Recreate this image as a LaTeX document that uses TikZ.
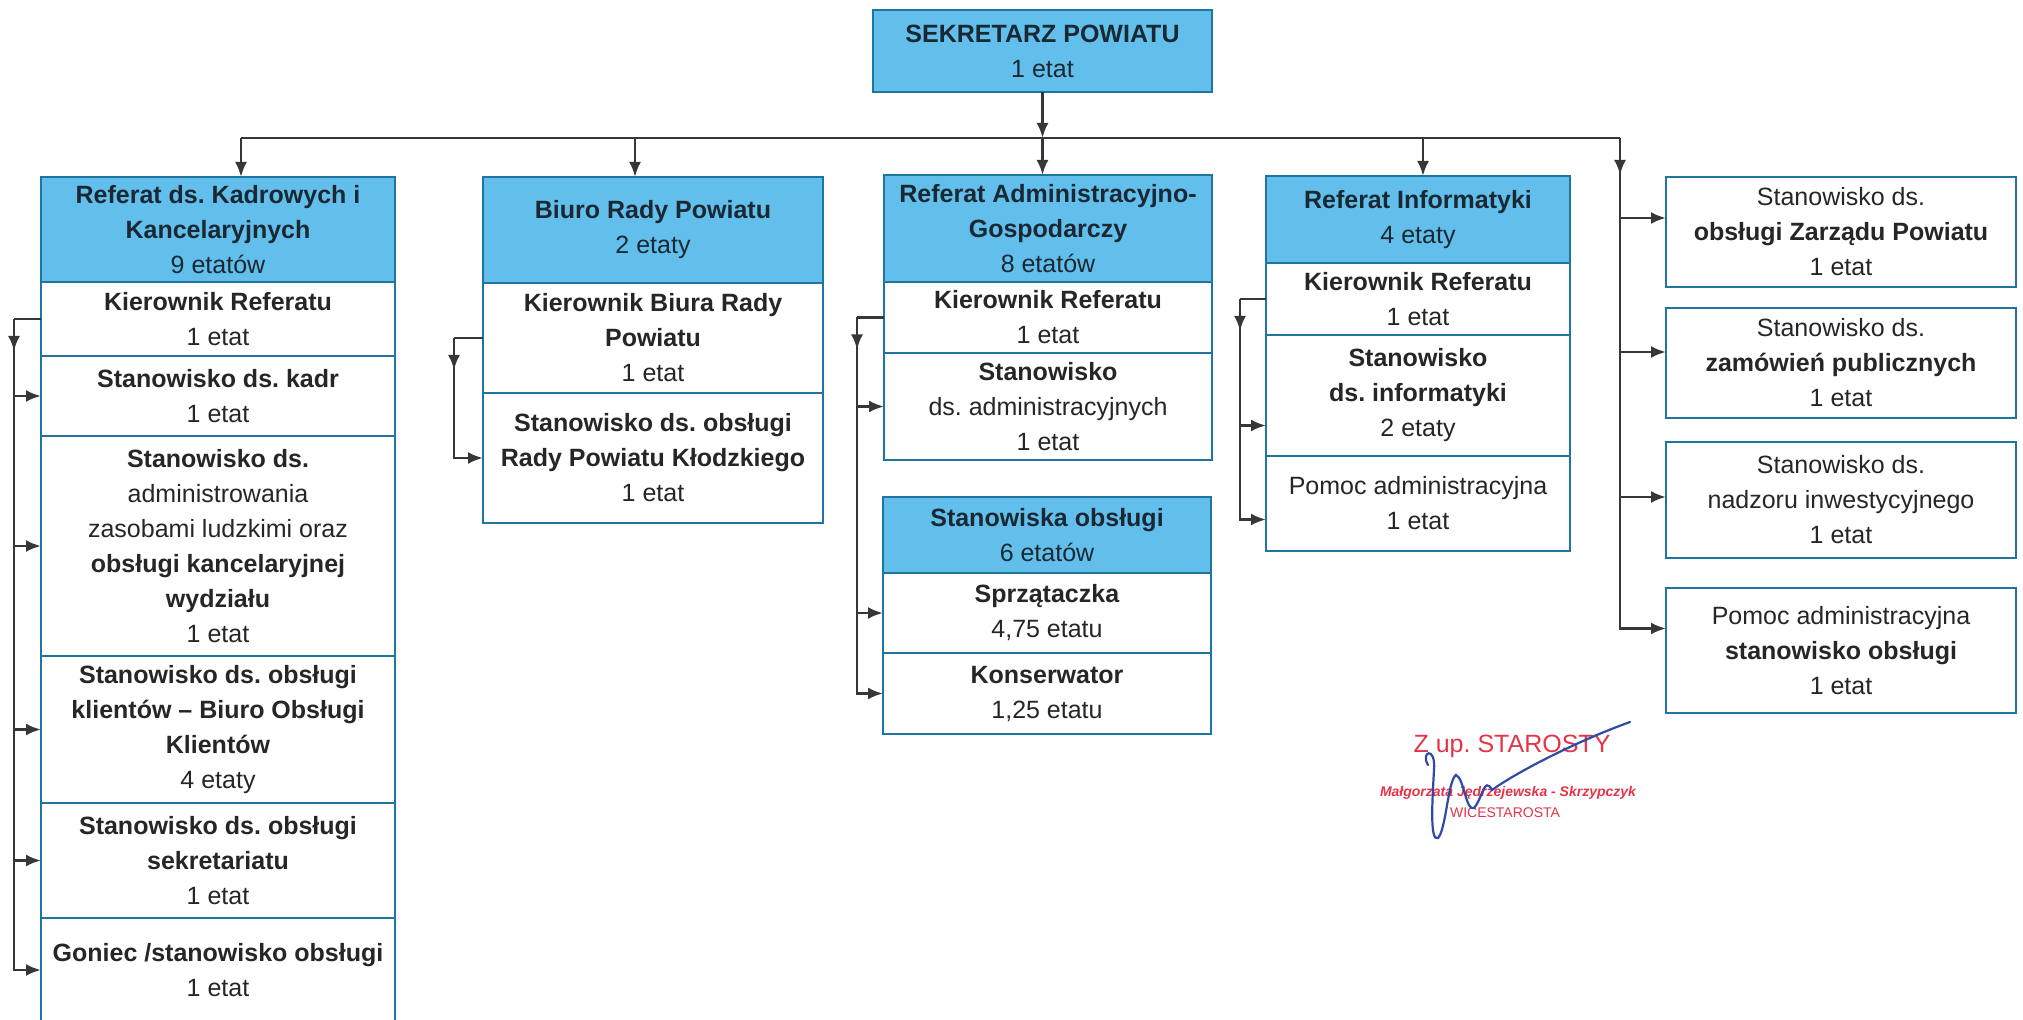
\documentclass[tikz,border=0pt]{standalone}
\usepackage{fontspec}
\setmainfont{Liberation Sans}
\usepackage{xcolor}
\usetikzlibrary{positioning,arrows.meta}
\frenchspacing

\definecolor{hdblue}{RGB}{98,191,236}
\definecolor{boxline}{RGB}{30,118,160}
\definecolor{hdtext}{RGB}{25,40,50}
\definecolor{wiregray}{RGB}{55,55,55}
\definecolor{stampred}{RGB}{228,52,72}
\definecolor{inkblue}{RGB}{45,75,165}

\begin{document}
\begin{tikzpicture}[x=0.5pt, y=-0.5pt,
  unit/.style={draw=boxline, line width=1.2pt, align=center, outer sep=0pt,
    inner xsep=2pt, inner ysep=1pt, text=black!85,
    font=\fontsize{12.5}{17.5}\selectfont},
  head/.style={unit, fill=hdblue, text=hdtext},
  post/.style={unit, fill=white},
  wire/.style={draw=wiregray, line width=1.3pt},
  >={Latex[length=7.5pt,width=6pt]}]

\useasboundingbox (0,0) rectangle (2023,1020);

\node[head, minimum width=169.5pt, minimum height=41pt] (sek) at (1042.5,51) {\textbf{SEKRETARZ POWIATU}\\1 etat};

% column 1
\node[head, minimum width=177pt, minimum height=52.5pt] (kadrHead) at (218,229.5) {\textbf{Referat ds. Kadrowych i}\\\textbf{Kancelaryjnych}\\9 etatów};
\node[post, minimum width=177pt, minimum height=37pt, below=0pt of kadrHead] (kadrKier) {\textbf{Kierownik Referatu}\\1 etat};
\node[post, minimum width=177pt, minimum height=40pt, below=0pt of kadrKier] (kadrKadr) {\textbf{Stanowisko ds. kadr}\\1 etat};
\node[post, minimum width=177pt, minimum height=110pt, below=0pt of kadrKadr] (kadrAdm) {\textbf{Stanowisko ds.}\\administrowania\\zasobami ludzkimi oraz\\\textbf{obsługi kancelaryjnej}\\\textbf{wydziału}\\1 etat};
\node[post, minimum width=177pt, minimum height=73.5pt, below=0pt of kadrAdm] (kadrKlient) {\textbf{Stanowisko ds. obsługi}\\\textbf{klientów – Biuro Obsługi}\\\textbf{Klientów}\\4 etaty};
\node[post, minimum width=177pt, minimum height=57.5pt, below=0pt of kadrKlient] (kadrSekr) {\textbf{Stanowisko ds. obsługi}\\\textbf{sekretariatu}\\1 etat};
\node[post, minimum width=177pt, minimum height=52pt, below=0pt of kadrSekr] (kadrGon) {\textbf{Goniec /stanowisko obsługi}\\1 etat};

% column 2
\node[head, minimum width=170pt, minimum height=53pt] (biuroHead) at (653,230) {\textbf{Biuro Rady Powiatu}\\2 etaty};
\node[post, minimum width=170pt, minimum height=55pt, below=0pt of biuroHead] (biuroKier) {\textbf{Kierownik Biura Rady}\\\textbf{Powiatu}\\1 etat};
\node[post, minimum width=170pt, minimum height=65pt, below=0pt of biuroKier] (biuroObs) {\textbf{Stanowisko ds. obsługi}\\\textbf{Rady Powiatu Kłodzkiego}\\1 etat};

% column 3
\node[head, minimum width=164pt, minimum height=53.5pt] (admHead) at (1048,228.5) {\textbf{Referat Administracyjno-}\\\textbf{Gospodarczy}\\8 etatów};
\node[post, minimum width=164pt, minimum height=35.5pt, below=0pt of admHead] (admKier) {\textbf{Kierownik Referatu}\\1 etat};
\node[post, minimum width=164pt, minimum height=53.5pt, below=0pt of admKier] (admStan) {\textbf{Stanowisko}\\ds. administracyjnych\\1 etat};

\node[head, minimum width=164pt, minimum height=38pt] (obsHead) at (1047,535) {\textbf{Stanowiska obsługi}\\6 etatów};
\node[post, minimum width=164pt, minimum height=40pt, below=0pt of obsHead] (obsSprz) {\textbf{Sprzątaczka}\\4,75 etatu};
\node[post, minimum width=164pt, minimum height=40.5pt, below=0pt of obsSprz] (obsKons) {\textbf{Konserwator}\\1,25 etatu};

% column 4
\node[head, minimum width=152pt, minimum height=43.5pt] (infoHead) at (1418,219.5) {\textbf{Referat Informatyki}\\4 etaty};
\node[post, minimum width=152pt, minimum height=36pt, below=0pt of infoHead] (infoKier) {\textbf{Kierownik Referatu}\\1 etat};
\node[post, minimum width=152pt, minimum height=60.5pt, below=0pt of infoKier] (infoStan) {\textbf{Stanowisko}\\\textbf{ds. informatyki}\\2 etaty};
\node[post, minimum width=152pt, minimum height=47.5pt, below=0pt of infoStan] (infoPom) {Pomoc administracyjna\\1 etat};

% column 5
\node[post, minimum width=175pt, minimum height=55pt] (zarz1) at (1841,232) {Stanowisko ds.\\\textbf{obsługi Zarządu Powiatu}\\1 etat};
\node[post, minimum width=175pt, minimum height=55pt] (zarz2) at (1841,363) {Stanowisko ds.\\\textbf{zamówień publicznych}\\1 etat};
\node[post, minimum width=175pt, minimum height=58pt] (zarz3) at (1841,500) {Stanowisko ds.\\nadzoru inwestycyjnego\\1 etat};
\node[post, minimum width=175pt, minimum height=62.5pt] (zarz4) at (1841,650.5) {Pomoc administracyjna\\\textbf{stanowisko obsługi}\\1 etat};

% bus
\coordinate (busY) at (0,138);
\coordinate (dKadr) at (241,138);
\coordinate (dBiuro) at (635,138);
\coordinate (dAdm) at (sek.south |- busY);
\coordinate (dInfo) at (1423,138);
\coordinate (dRight) at (1620,138);

\draw[wire] (dKadr) -- (dRight);
\draw[wire,->] (sek) -- (dAdm);
\foreach \c/\n in {dKadr/kadrHead, dBiuro/biuroHead, dAdm/admHead, dInfo/infoHead}
  \draw[wire,->] (\c) -- (\c |- \n.north);

\draw[wire,->] (dRight) -- ++(0,37);
\draw[wire,<-] ([yshift=11pt]zarz4.west) -| (dRight);
\foreach \n/\s in {zarz1/7pt, zarz2/5.5pt, zarz3/1.5pt}
  \draw[wire,<-] ([yshift=\s]\n.west) -| (dRight);

% side connectors
\coordinate (kL) at ([xshift=-13.5pt]kadrKier.west);
\draw[wire] (kadrKier.west) -- (kL);
\draw[wire,->] (kL) -- ++(0,32);
\foreach \n in {kadrKadr,kadrAdm,kadrKlient,kadrSekr,kadrGon}
  \draw[wire,<-] (\n.west) -| (kL);

\coordinate (bL) at ([xshift=-14.5pt]biuroKier.west);
\draw[wire] (biuroKier.west) -- (bL);
\draw[wire,->] (bL) -- ++(0,32);
\draw[wire,<-] (biuroObs.west) -| (bL);

\coordinate (aL) at ([xshift=-13.5pt]admKier.west);
\draw[wire] (admKier.west) -- (aL);
\draw[wire,->] (aL) -- ++(0,32);
\foreach \n in {admStan,obsSprz,obsKons}
  \draw[wire,<-] (\n.west) -| (aL);

\coordinate (iL) at ([xshift=-13pt]infoKier.west);
\draw[wire] (infoKier.west) -- (iL);
\draw[wire,->] (iL) -- ++(0,32);
\draw[wire,<-] ([yshift=-15pt]infoStan.west) -| (iL);
\draw[wire,<-] ([yshift=-8pt]infoPom.west) -| (iL);

% stamp
\node[text=stampred, font=\fontsize{12.5}{13}\selectfont] (zup) at (1512,746) {Z up. STAROSTY};
\node[text=stampred, font=\bfseries\itshape\fontsize{7}{8}\selectfont] (sname) at (1508,793) {Małgorzata Jędrzejewska - Skrzypczyk};
\node[text=stampred, font=\fontsize{7}{8}\selectfont] (vice) at (1505,813) {WICESTAROSTA};
\draw[inkblue, line width=1.1pt, line cap=round] (1428,765) .. controls (1420,752) and (1436,745) .. (1434,770)
  .. controls (1432,805) and (1430,842) .. (1438,838) .. controls (1446,830) and (1448,780) .. (1456,775)
  .. controls (1464,778) and (1466,812) .. (1474,808) .. controls (1482,800) and (1484,775) .. (1492,790)
  .. controls (1520,770) and (1580,740) .. (1630,722);
\end{tikzpicture}
\end{document}
